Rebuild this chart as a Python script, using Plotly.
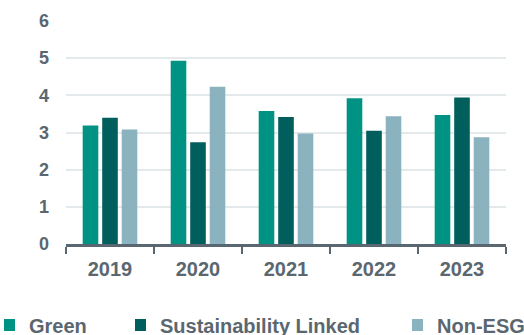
import plotly.graph_objects as go

years = ["2019", "2020", "2021", "2022", "2023"]
green = [3.19, 4.93, 3.58, 3.92, 3.47]
sustainability_linked = [3.40, 2.74, 3.42, 3.05, 3.94]
non_esg = [3.08, 4.23, 2.97, 3.44, 2.87]

series_names = ["Green", "Sustainability Linked", "Non-ESG"]
colors = ["#009384", "#005E5C", "#8AB2BF"]
legend_ids = ["legend", "legend2", "legend3"]

TEXT = "#5B6770"
FONT = "Liberation Sans, Arial, sans-serif"

fig = go.Figure()
for name, vals, col, lg in zip(series_names, [green, sustainability_linked, non_esg], colors, legend_ids):
    fig.add_trace(go.Bar(x=years, y=vals, name=name, marker=dict(color=col, line=dict(width=0)),
                         legend=lg))

legend_common = dict(
    orientation="h", xref="paper", yref="container", xanchor="left", yanchor="middle",
    font=dict(family=FONT, size=20, color=TEXT, weight="bold"), bgcolor="rgba(0,0,0,0)",
    borderwidth=0, tracegroupgap=0, itemwidth=30, indentation=-15,
)

fig.update_layout(
    width=524, height=335,
    margin=dict(l=66, r=18, t=21, b=91, autoexpand=False),
    paper_bgcolor="white", plot_bgcolor="white",
    barmode="group", bargap=0.335, bargroupgap=0.2,
    font=dict(family=FONT, color=TEXT),
    showlegend=True,
    legend=dict(x=-0.1409, y=0.03, **legend_common),
    legend2=dict(x=0.1568, y=0.03, **legend_common),
    legend3=dict(x=0.7864, y=0.03, **legend_common),
    xaxis=dict(
        showline=True, linecolor=TEXT, linewidth=2.5,
        ticks="outside", tickson="boundaries", ticklen=7, tickwidth=2, tickcolor=TEXT,
        tickfont=dict(family=FONT, size=20, color=TEXT, weight="bold"),
        showgrid=False, ticklabelstandoff=5,
    ),
    yaxis=dict(
        range=[0, 6], dtick=1, tick0=0,
        showgrid=True, gridcolor="#E4E9EC", gridwidth=1.5,
        zeroline=False, showline=False,
        tickfont=dict(family=FONT, size=18, color=TEXT, weight="bold"),
        ticks="", ticklabelstandoff=16,
    ),
)

fig.write_html("out.html")
